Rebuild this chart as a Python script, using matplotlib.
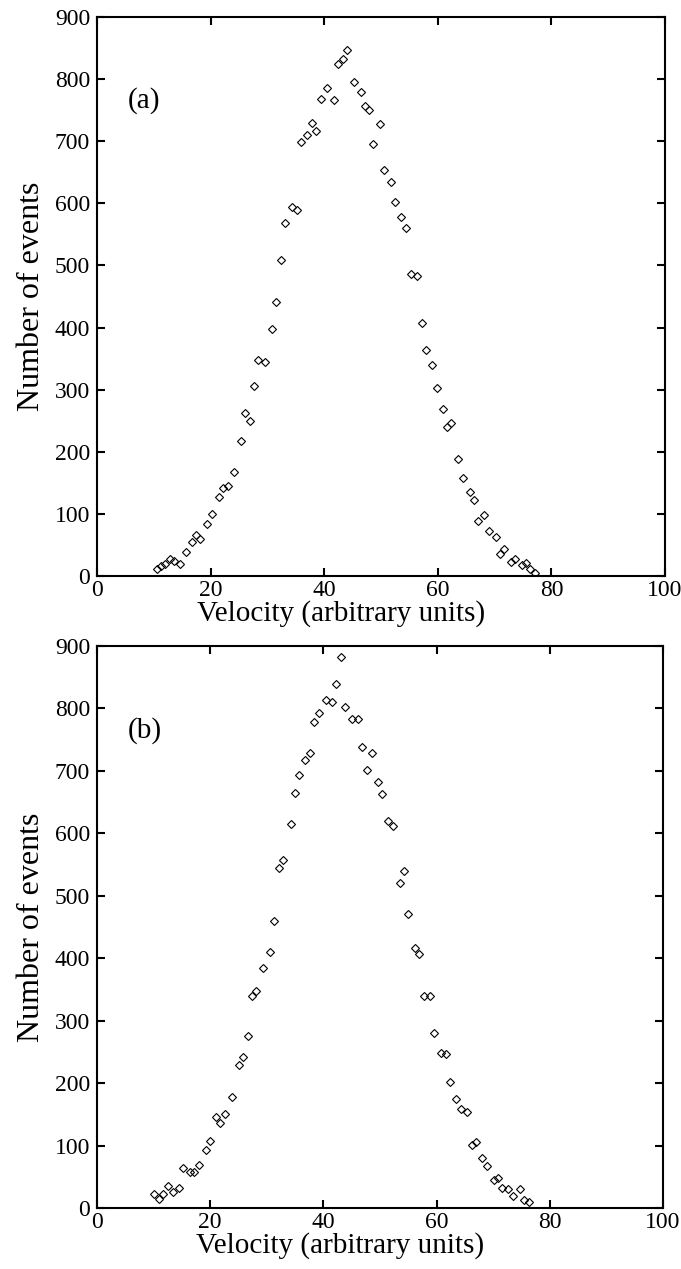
import matplotlib
matplotlib.use("Agg")
import matplotlib.pyplot as plt

# panel (a): velocity vs number of events
vel_a = [10.5, 11.3, 12.0, 12.8, 13.6, 14.7, 15.6, 16.75, 17.5, 18.2, 19.4, 20.2,
         21.4, 22.2, 23.0, 24.1, 25.3, 26.1, 26.9, 27.6, 28.4, 29.6, 30.8, 31.6,
         32.4, 33.1, 34.3, 35.2, 35.9, 37.0, 37.8, 38.6, 39.4, 40.5, 41.7, 42.5,
         43.3, 44.0, 45.2, 46.4, 47.1, 47.9, 48.6, 49.9, 50.6, 51.7, 52.5, 53.6,
         54.4, 55.2, 56.4, 57.2, 57.9, 59.0, 59.8, 61.0, 61.7, 62.4, 63.6, 64.4,
         65.6, 66.3, 67.0, 68.2, 69.0, 70.2, 70.9, 71.7, 72.8, 73.6, 74.8, 75.5,
         76.3, 77.1]
events_a = [12, 16, 19, 27, 24, 19, 39, 55, 66, 59, 83, 100,
            127, 142, 145, 168, 218, 262, 250, 306, 347, 344, 397, 441,
            509, 569, 594, 590, 698, 710, 730, 716, 768, 786, 766, 824,
            832, 847, 795, 780, 757, 751, 696, 727, 654, 634, 602, 578,
            560, 487, 483, 408, 364, 340, 302, 269, 240, 247, 188, 158,
            135, 123, 88, 99, 73, 62, 35, 44, 23, 27, 17, 21,
            11, 5]

# panel (b)
vel_b = [10.1, 10.9, 11.7, 12.6, 13.4, 14.5, 15.2, 16.4, 17.1, 18.0, 19.2, 19.9,
         21.1, 21.8, 22.7, 23.8, 25.0, 25.8, 26.6, 27.3, 28.1, 29.4, 30.5, 31.3,
         32.1, 32.9, 34.2, 34.9, 35.7, 36.8, 37.7, 38.4, 39.3, 40.4, 41.5, 42.3,
         43.1, 43.8, 45.0, 46.2, 46.9, 47.7, 48.5, 49.7, 50.4, 51.5, 52.3, 53.5,
         54.3, 55.0, 56.1, 56.9, 57.7, 58.9, 59.6, 60.8, 61.6, 62.3, 63.5, 64.3,
         65.4, 66.2, 67.0, 68.0, 68.9, 70.1, 70.8, 71.6, 72.7, 73.5, 74.7, 75.5,
         76.3]
events_b = [22, 14, 22, 35, 26, 32, 64, 57, 58, 69, 93, 108,
            145, 136, 151, 177, 229, 242, 276, 340, 347, 384, 410, 460,
            544, 557, 615, 664, 693, 717, 728, 778, 792, 813, 810, 839,
            882, 803, 783, 783, 739, 702, 728, 683, 663, 620, 611, 521,
            539, 471, 416, 407, 340, 340, 281, 249, 246, 202, 174, 159,
            153, 101, 106, 80, 68, 45, 48, 32, 30, 19, 30, 13,
            9]

xticks = [0, 20, 40, 60, 80, 100]
yticks = [0, 100, 200, 300, 400, 500, 600, 700, 800, 900]

plt.rcParams["font.family"] = "Liberation Serif"

fig = plt.figure(figsize=(6.81, 12.69), dpi=100)
ax_a = fig.add_axes([97 / 681, 1 - 576 / 1269, 568 / 681, 559 / 1269])
ax_b = fig.add_axes([97 / 681, 1 - 1208 / 1269, 566 / 681, 562 / 1269])

for ax, vel, ev, tag in [(ax_a, vel_a, events_a, "(a)"), (ax_b, vel_b, events_b, "(b)")]:
    ax.plot(vel, ev, linestyle="none", marker="D", markersize=3.8,
            markerfacecolor="none", markeredgecolor="black", markeredgewidth=0.8)
    ax.set_xlim(0, 100)
    ax.set_ylim(0, 900)
    ax.set_xticks(xticks)
    ax.set_yticks(yticks)
    ax.tick_params(direction="in", length=6, width=1.5, labelsize=17,
                   top=True, right=True)
    ax.tick_params(axis="x", pad=3)
    ax.tick_params(axis="y", pad=5)
    for sp in ax.spines.values():
        sp.set_linewidth(1.5)
    # the caption sits a bit left of the axis centre in the original
    ax.set_xlabel("Velocity (arbitrary units)", fontsize=21, labelpad=-1, x=0.43)
    ax.set_ylabel("Number of events", fontsize=23, labelpad=6)
    ax.text(0.055, 0.85, tag, transform=ax.transAxes, fontsize=21,
            ha="left", va="center")

fig.savefig("out.png", dpi=100)
